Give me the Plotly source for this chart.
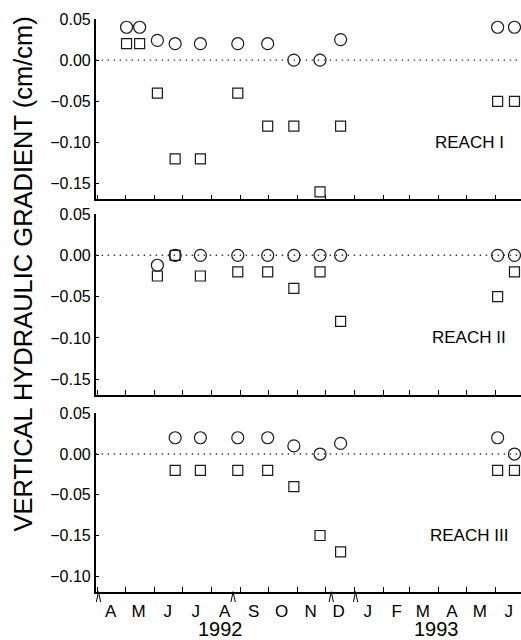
import plotly.graph_objects as go
import pandas as pd

# ---------------- data ----------------
dates_reach1 = ["1992-05-02", "1992-05-16", "1992-06-04", "1992-06-23", "1992-07-20",
                "1992-08-29", "1992-09-30", "1992-10-28", "1992-11-25", "1992-12-17",
                "1993-06-03", "1993-06-21"]
circles_reach1 = [0.04, 0.04, 0.024, 0.02, 0.02, 0.02, 0.02, 0.0, 0.0, 0.025, 0.04, 0.04]
squares_reach1 = [0.02, 0.02, -0.04, -0.12, -0.12, -0.04, -0.08, -0.08, -0.16, -0.08, -0.05, -0.05]

dates_reach2 = ["1992-06-04", "1992-06-23", "1992-07-20", "1992-08-29", "1992-09-30",
                "1992-10-28", "1992-11-25", "1992-12-17", "1993-06-03", "1993-06-21"]
circles_reach2 = [-0.012, 0.0, 0.0, 0.0, 0.0, 0.0, 0.0, 0.0, 0.0, 0.0]
squares_reach2 = [-0.025, 0.0, -0.025, -0.02, -0.02, -0.04, -0.02, -0.08, -0.05, -0.02]

dates_reach3 = ["1992-06-23", "1992-07-20", "1992-08-29", "1992-09-30", "1992-10-28",
                "1992-11-25", "1992-12-17", "1993-06-03", "1993-06-21"]
circles_reach3 = [0.02, 0.02, 0.02, 0.02, 0.01, 0.0, 0.013, 0.02, 0.0]
squares_reach3 = [-0.02, -0.02, -0.02, -0.02, -0.04, -0.10, -0.12, -0.02, -0.02]

reach_names = ["REACH I", "REACH II", "REACH III"]

month_starts = ["1992-04-01", "1992-05-01", "1992-06-01", "1992-07-01", "1992-08-01",
                "1992-09-01", "1992-10-01", "1992-11-01", "1992-12-01", "1993-01-01",
                "1993-02-01", "1993-03-01", "1993-04-01", "1993-05-01", "1993-06-01"]
month_mids = ["1992-04-15", "1992-05-15", "1992-06-15", "1992-07-15", "1992-08-15",
              "1992-09-15", "1992-10-15", "1992-11-15", "1992-12-15", "1993-01-15",
              "1993-02-15", "1993-03-15", "1993-04-15", "1993-05-15", "1993-06-15"]
month_letters = ["A", "M", "J", "J", "A", "S", "O", "N", "D", "J", "F", "M", "A", "M", "J"]

year_labels = ["1992", "1993"]
year_centers = ["1992-08-10", "1993-03-30"]

event_dates = ["1992-04-02", "1992-08-24", "1992-12-07", "1993-01-02"]

y_tickvals = [0.05, 0.0, -0.05, -0.10, -0.15]
y_ticktext_12 = ["0.05", "0.00", "\u22120.05", "\u22120.10", "\u22120.15"]
y_ticktext_3 = ["0.05", "0.00", "\u22120.05", "\u22120.15", "\u22120.10"]

x_range = ["1992-03-30", "1993-06-28"]
y_range = [-0.169, 0.05]

# ---------------- figure ----------------
W, H = 521, 640
FONT = "Liberation Sans, Arial, Helvetica, sans-serif"
panels = [
    (dates_reach1, circles_reach1, squares_reach1, y_ticktext_12),
    (dates_reach2, circles_reach2, squares_reach2, y_ticktext_12),
    (dates_reach3, circles_reach3, squares_reach3, y_ticktext_3),
]
# panel vertical extents in pixels (top, bottom)
panel_px = [(19, 199.3), (214, 395), (413.3, 591.7)]
x_domain = [95.7 / W, 1.0]


def ax(letter, i):
    return letter if i == 1 else f"{letter}{i}"


fig = go.Figure()
layout = dict(
    width=W, height=H, margin=dict(l=0, r=0, t=0, b=0),
    paper_bgcolor="white", plot_bgcolor="white", showlegend=False,
    font=dict(family=FONT, color="black"),
)

for i, (d, c, s, ytext) in enumerate(panels, start=1):
    xa, ya = ax("x", i), ax("y", i)
    fig.add_trace(go.Scatter(
        x=d, y=s, mode="markers", xaxis=xa, yaxis=ya, cliponaxis=False,
        marker=dict(symbol="square-open", size=10, color="#1a1a1a", line=dict(width=1.2)),
    ))
    fig.add_trace(go.Scatter(
        x=d, y=c, mode="markers", xaxis=xa, yaxis=ya, cliponaxis=False,
        marker=dict(symbol="circle-open", size=12, color="#1a1a1a", line=dict(width=1.2)),
    ))
    top, bot = panel_px[i - 1]
    last = (i == 3)
    layout[ax("xaxis", i)] = dict(
        domain=x_domain, anchor=ya, type="date", range=x_range,
        showgrid=False, zeroline=False, showline=True, linecolor="black", linewidth=1.5,
        tickmode="array", tickvals=month_mids, ticktext=month_letters, ticks="",
        showticklabels=last, tickfont=dict(size=17, family=FONT, color="black"),
        ticklabelstandoff=3,
        minor=dict(tickvals=month_starts, ticks="inside", ticklen=5, tickwidth=1.2,
                   tickcolor="black", showgrid=False),
        automargin=False,
    )
    layout[ax("yaxis", i)] = dict(
        domain=[1 - bot / H, 1 - top / H], anchor=xa, range=y_range,
        showgrid=False, zeroline=False, showline=True, linecolor="black", linewidth=1.5,
        tickmode="array", tickvals=y_tickvals, ticktext=ytext,
        ticks="inside", ticklen=4, tickwidth=1.2, tickcolor="black",
        tickfont=dict(size=16, family=FONT, color="black"),
        automargin=False,
    )

shapes = []
annotations = []
for i in range(1, 4):
    xa, ya = ax("x", i), ax("y", i)
    shapes.append(dict(type="line", xref=f"{xa} domain", yref=ya,
                       x0=0, x1=1, y0=0, y1=0,
                       line=dict(color="#333333", width=1.4, dash="1.4px,4.6px")))
    annotations.append(dict(text=reach_names[i - 1], xref=f"{xa} domain", yref=ya,
                            x=0.878, y=-0.10, showarrow=False,
                            xanchor="center", yanchor="middle",
                            font=dict(size=17, family=FONT, color="black")))

# event carets below the bottom axis
for d in event_dates:
    t = pd.Timestamp(d)
    half = pd.Timedelta(days=2.3)
    for a, b in ((t - half, t), (t, t + half)):
        y_a = -0.058 if a != t else 0.0
        y_b = -0.058 if b != t else 0.0
        shapes.append(dict(type="line", xref="x3", yref="y3 domain",
                           x0=a, x1=b, y0=y_a, y1=y_b,
                           line=dict(color="black", width=1)))

for lbl, xc in zip(year_labels, year_centers):
    annotations.append(dict(text=lbl, xref="x3", yref="paper", x=xc, y=1 - 629 / H,
                            xanchor="center", yanchor="middle", showarrow=False,
                            borderpad=0,
                            font=dict(size=20, family=FONT, color="black")))

annotations.append(dict(text="VERTICAL HYDRAULIC GRADIENT (cm/cm)", xref="paper", yref="paper",
                        x=22 / W, y=1 - 274.5 / H, textangle=-90, showarrow=False,
                        xanchor="center", yanchor="middle",
                        font=dict(size=25.5, family=FONT, color="black")))

layout["shapes"] = shapes
layout["annotations"] = annotations
fig.update_layout(**layout)
fig.write_html("out.html")
